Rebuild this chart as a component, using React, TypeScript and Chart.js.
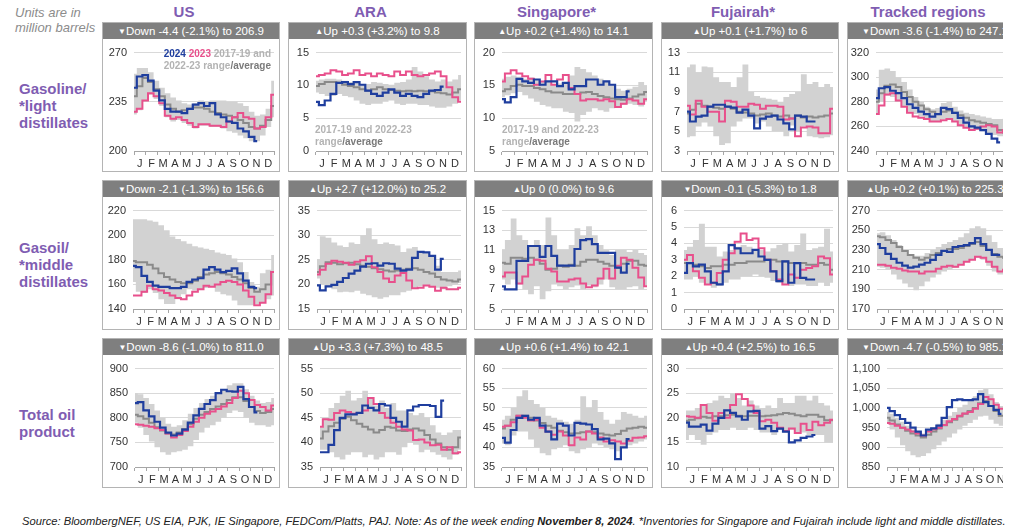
import React, { useEffect, useRef } from 'react';
import { Chart, registerables } from 'chart.js';
Chart.register(...registerables);

const FONT = '"Liberation Sans", Arial, Helvetica, sans-serif';
Chart.defaults.font.family = FONT;

const MONTHS = ['J', 'F', 'M', 'A', 'M', 'J', 'J', 'A', 'S', 'O', 'N', 'D'];

// ---------- Gasoline / light distillates ----------
const G_US_24 = [245, 253, 254, 250, 243, 236, 230, 228, 228, 227, 230, 233, 234, 232, 234, 226, 224, 221, 220, 216, 214, 210, 207];
const G_US_23 = [228, 230, 236, 241, 239, 234, 225, 223, 224, 222, 220, 217, 219, 219, 218, 218, 217, 221, 224, 227, 224, 223, 216, 217, 224, 240];
const G_US_AVG = [239, 246, 252, 249, 244, 239, 233, 230, 228, 229, 230, 231, 231, 230, 228, 227, 226, 225, 224, 222, 220, 217, 216, 218, 222, 232];
const G_US_LO = [226, 229, 235, 240, 237, 232, 224, 221, 222, 220, 218, 216, 218, 218, 217, 217, 216, 214, 213, 211, 209, 207, 207, 211, 217, 224];
const G_US_HI = [255, 259, 259, 256, 250, 245, 241, 238, 236, 234, 233, 234, 236, 235, 236, 236, 236, 235, 235, 234, 232, 228, 225, 226, 230, 250];

const G_ARA_24 = [7.5, 7.0, 7.7, 8.7, 10.4, 10.5, 10.2, 10.5, 10.1, 9.2, 8.7, 8.4, 8.9, 9.4, 8.9, 8.4, 8.7, 8.4, 8.2, 8.7, 9.2, 9.3, 9.8];
const G_ARA_23 = [11.4, 11.6, 11.8, 12.3, 12.1, 11.6, 11.8, 12.3, 11.6, 11.8, 11.4, 11.8, 11.6, 11.4, 12.1, 11.6, 12.1, 11.6, 11.4, 11.6, 11.8, 12.1, 11.4, 9.7, 8.2, 7.5];
const G_ARA_AVG = [9.9, 10.2, 10.5, 10.5, 10.4, 10.1, 9.9, 9.7, 9.4, 9.2, 9.4, 9.7, 9.4, 9.3, 9.2, 9.1, 9.2, 9.1, 9.2, 9.1, 9.1, 8.9, 8.8, 8.6, 8.9, 9.4];
const G_ARA_LO = [8.9, 8.7, 8.4, 8.4, 8.7, 8.4, 8.2, 7.7, 7.2, 7.0, 7.2, 7.2, 7.5, 7.7, 7.2, 7.0, 7.2, 7.2, 7.0, 7.0, 6.8, 6.6, 6.6, 6.8, 7.2, 7.7];
const G_ARA_HI = [10.7, 10.9, 11.0, 11.0, 10.9, 10.7, 10.5, 10.4, 10.1, 10.2, 10.5, 10.4, 10.2, 10.1, 10.4, 10.5, 10.9, 12.8, 12.1, 11.4, 10.9, 10.6, 10.9, 10.6, 10.9, 11.6];

const G_SG_24 = [12.9, 12.4, 13.2, 16.0, 15.6, 15.4, 15.9, 15.1, 15.6, 15.6, 14.9, 15.4, 14.4, 14.9, 14.9, 15.9, 15.9, 15.1, 15.6, 15.1, 13.2, 13.2, 14.1];
const G_SG_23 = [15.6, 16.8, 17.3, 16.8, 16.4, 16.0, 15.1, 15.6, 16.6, 15.1, 15.9, 16.6, 14.6, 13.7, 12.7, 12.9, 12.9, 12.7, 12.9, 12.6, 11.7, 12.2, 12.9, 12.7, 12.2, 12.9];
const G_SG_AVG = [14.1, 14.4, 14.9, 15.1, 14.9, 14.9, 14.6, 14.4, 14.1, 13.9, 13.9, 13.7, 13.7, 13.7, 13.9, 14.0, 13.7, 13.4, 13.2, 13.0, 12.9, 12.8, 13.0, 13.3, 13.6, 14.0];
const G_SG_LO = [13.2, 13.5, 13.8, 14.0, 13.5, 13.0, 12.5, 12.0, 11.8, 11.5, 11.5, 11.0, 10.8, 9.5, 10.5, 11.0, 11.5, 11.2, 11.0, 11.5, 11.8, 12.0, 12.2, 12.0, 11.8, 12.5];
const G_SG_HI = [16.0, 16.3, 16.5, 16.3, 16.0, 16.2, 15.8, 15.5, 15.5, 15.0, 15.3, 15.5, 16.5, 17.8, 17.5, 17.0, 16.5, 16.0, 15.5, 15.0, 14.5, 14.2, 14.5, 14.8, 15.5, 15.0];

const G_FJ_24 = [7.0, 6.0, 6.5, 6.6, 7.5, 7.7, 7.7, 7.5, 7.4, 6.9, 7.2, 6.6, 5.3, 6.3, 6.5, 6.6, 6.2, 5.8, 5.2, 6.6, 6.5, 6.0, 6.0];
const G_FJ_23 = [7.6, 6.7, 8.1, 7.5, 7.0, 7.0, 6.0, 8.1, 8.0, 7.5, 7.5, 7.8, 7.7, 7.3, 7.6, 7.6, 7.5, 6.2, 6.3, 4.5, 5.4, 5.5, 5.4, 4.8, 4.8, 7.3];
const G_FJ_AVG = [6.8, 7.2, 7.8, 7.6, 7.5, 7.4, 7.3, 7.5, 7.3, 7.0, 6.9, 6.8, 6.6, 6.7, 6.8, 6.6, 6.5, 6.6, 6.3, 6.6, 6.4, 6.5, 6.4, 6.5, 6.6, 6.8];
const G_FJ_LO = [4.4, 4.5, 5.5, 5.9, 5.5, 4.5, 3.6, 3.8, 5.5, 6.0, 6.3, 6.3, 5.8, 6.0, 5.5, 5.0, 5.0, 4.5, 5.6, 5.0, 5.5, 4.5, 4.4, 4.3, 4.4, 4.6];
const G_FJ_HI = [11.5, 11.8, 11.0, 11.6, 11.5, 10.5, 10.0, 10.0, 9.5, 10.5, 11.8, 9.0, 8.6, 8.4, 8.3, 8.2, 8.0, 8.5, 8.8, 9.0, 10.8, 9.8, 10.0, 9.5, 9.8, 9.5];

const G_TR_24 = [283, 291, 292, 289, 287, 283, 278, 275, 272, 270, 268, 270, 275, 274, 271, 267, 263, 260, 259, 257, 254, 250, 247];
const G_TR_23 = [270, 277, 286, 287, 281, 276, 271, 268, 267, 266, 264, 264, 265, 266, 264, 261, 259, 257, 258, 260, 261, 260, 255, 257, 257, 258];
const G_TR_AVG = [280, 287, 293, 294, 292, 288, 284, 280, 277, 274, 272, 270, 272, 273, 271, 269, 267, 265, 264, 263, 262, 261, 257, 255, 256, 258];
const G_TR_LO = [270, 280, 285, 284, 280, 276, 272, 270, 268, 266, 264, 264, 266, 266, 264, 261, 259, 258, 257, 256, 254, 253, 252, 252, 254, 255];
const G_TR_HI = [290, 306, 307, 305, 300, 296, 290, 284, 280, 276, 274, 275, 279, 280, 276, 273, 271, 270, 269, 268, 267, 266, 266, 267, 266, 265];

// ---------- Gasoil / middle distillates ----------
const M_US_24 = [175, 174, 167, 162, 159, 158, 158, 157, 157, 158, 162, 164, 165, 172, 174, 172, 170, 171, 173, 169, 163, 158, 157];
const M_US_23 = [151, 151, 154, 159, 156, 155, 153, 151, 149, 148, 151, 154, 156, 159, 158, 160, 162, 163, 162, 160, 155, 150, 143, 145, 152, 170];
const M_US_AVG = [179, 178, 178, 176, 173, 169, 166, 164, 162, 161, 161, 163, 166, 168, 169, 170, 169, 168, 166, 164, 161, 157, 154, 156, 160, 170];
const M_US_LO = [162, 154, 153, 156, 153, 148, 144, 144, 148, 152, 156, 155, 156, 157, 158, 154, 152, 151, 147, 143, 143, 143, 144, 145, 148, 151];
const M_US_HI = [213, 213, 213, 212, 211, 208, 204, 199, 197, 195, 193, 191, 190, 189, 188, 186, 185, 184, 181, 178, 170, 162, 158, 169, 172, 184];

const M_ARA_24 = [19.8, 18.8, 19.6, 19.9, 20.5, 21.3, 22.2, 22.8, 23.6, 24.2, 24.3, 23.8, 24.3, 24.2, 23.2, 22.8, 23.0, 25.4, 26.6, 26.5, 25.8, 23.0, 25.2];
const M_ARA_23 = [22.0, 23.0, 24.2, 24.8, 24.6, 24.4, 24.0, 24.6, 24.9, 25.7, 23.5, 22.5, 21.2, 20.5, 21.8, 22.3, 20.8, 19.2, 19.3, 19.8, 19.5, 18.7, 19.3, 19.0, 19.0, 19.3];
const M_ARA_AVG = [22.5, 23.7, 24.5, 24.4, 24.1, 24.3, 24.4, 24.1, 23.8, 23.6, 23.3, 23.1, 22.8, 22.6, 22.8, 23.0, 23.2, 23.3, 23.0, 22.5, 22.2, 21.5, 21.0, 20.8, 20.6, 21.0];
const M_ARA_LO = [21.2, 20.0, 19.6, 19.0, 18.4, 18.5, 18.4, 18.7, 18.1, 17.8, 17.4, 17.1, 17.4, 17.8, 17.8, 18.4, 18.7, 19.3, 19.6, 20.0, 19.6, 19.3, 19.0, 19.6, 20.0, 20.3];
const M_ARA_HI = [25.1, 29.8, 29.5, 28.5, 27.9, 27.6, 28.5, 28.2, 30.0, 31.4, 29.2, 28.2, 28.5, 28.2, 27.9, 26.6, 27.3, 27.6, 26.6, 26.3, 25.7, 23.8, 22.5, 22.5, 22.5, 22.8];

const M_SG_24 = [7.3, 7.0, 7.0, 9.9, 9.9, 11.4, 11.4, 10.3, 11.4, 10.4, 9.4, 9.4, 9.4, 11.1, 12.0, 12.1, 11.6, 10.7, 10.7, 10.7, 9.2, 8.7, 9.6];
const M_SG_23 = [8.3, 8.7, 8.7, 7.6, 8.3, 9.5, 10.0, 9.9, 9.1, 8.8, 7.8, 7.8, 8.0, 8.1, 7.6, 7.2, 7.4, 8.1, 9.1, 8.1, 9.4, 10.2, 10.0, 9.2, 8.2, 7.3];
const M_SG_AVG = [9.7, 9.6, 10.2, 10.2, 10.1, 10.2, 10.0, 9.6, 9.0, 9.1, 9.4, 9.3, 9.5, 9.4, 9.8, 10.0, 10.0, 9.8, 9.6, 9.4, 9.2, 9.6, 9.9, 9.9, 9.5, 9.4];
const M_SG_LO = [8.0, 7.5, 8.0, 7.5, 7.0, 6.5, 7.3, 6.0, 6.8, 7.5, 7.3, 7.0, 7.2, 7.4, 7.0, 7.4, 7.2, 7.5, 8.0, 7.2, 7.0, 7.0, 7.2, 7.3, 7.0, 7.4];
const M_SG_HI = [11.0, 12.0, 14.2, 12.5, 12.0, 11.5, 12.0, 11.5, 14.3, 12.5, 11.0, 11.0, 11.5, 13.2, 12.5, 13.4, 12.5, 11.5, 11.0, 10.5, 11.0, 11.0, 10.8, 11.0, 10.7, 10.5];

const M_FJ_24 = [2.2, 2.8, 2.6, 2.7, 2.3, 1.6, 1.5, 2.3, 3.9, 3.7, 3.4, 3.4, 3.6, 3.2, 3.0, 2.3, 1.7, 2.9, 1.6, 2.8, 1.9, 1.8, 1.8];
const M_FJ_23 = [3.0, 3.3, 2.3, 1.9, 1.5, 1.6, 2.2, 3.0, 3.4, 4.1, 4.6, 4.2, 4.3, 3.7, 3.0, 2.3, 1.8, 1.5, 2.1, 1.9, 2.4, 2.5, 2.6, 3.2, 3.1, 2.1];
const M_FJ_AVG = [2.8, 2.8, 2.7, 2.6, 2.5, 2.6, 2.6, 2.7, 2.7, 2.8, 2.8, 2.9, 2.9, 2.9, 3.0, 3.0, 2.9, 2.9, 2.8, 2.8, 2.8, 2.7, 2.7, 2.8, 2.7, 2.4];
const M_FJ_LO = [1.8, 1.8, 2.0, 1.6, 1.5, 1.3, 1.4, 1.6, 1.8, 1.8, 2.0, 2.0, 2.1, 2.0, 1.9, 1.7, 1.6, 1.5, 1.4, 1.5, 1.5, 1.4, 1.4, 1.6, 1.4, 1.6];
const M_FJ_HI = [3.6, 3.8, 4.2, 5.2, 3.8, 3.8, 3.2, 3.5, 3.6, 3.8, 3.9, 3.8, 3.6, 3.6, 3.5, 3.7, 3.9, 4.0, 3.5, 3.9, 4.6, 3.6, 3.7, 3.8, 4.9, 3.5];

const M_TR_24 = [236, 232, 226, 221, 217, 214, 212, 213, 215, 217, 220, 225, 229, 228, 233, 234, 235, 237, 242, 236, 230, 225, 225];
const M_TR_23 = [215, 215, 214, 212, 211, 209, 208, 208, 206, 208, 208, 211, 213, 214, 213, 215, 218, 220, 223, 222, 218, 213, 208, 210, 212, 214];
const M_TR_AVG = [244, 243, 240, 237, 233, 229, 225, 222, 220, 222, 225, 227, 229, 231, 231, 232, 234, 236, 238, 234, 230, 226, 223, 222, 223, 225];
const M_TR_LO = [213, 212, 210, 205, 200, 196, 192, 189, 193, 198, 202, 205, 208, 210, 212, 215, 218, 220, 222, 220, 214, 208, 205, 206, 208, 210];
const M_TR_HI = [247, 248, 245, 240, 235, 230, 226, 224, 224, 227, 230, 233, 236, 238, 240, 243, 247, 252, 254, 252, 245, 238, 232, 230, 228, 230];

// ---------- Total oil product ----------
const T_US_24 = [830, 832, 815, 803, 792, 780, 770, 764, 768, 776, 790, 805, 818, 828, 836, 850, 857, 854, 853, 863, 838, 822, 811];
const T_US_23 = [787, 786, 784, 782, 779, 775, 768, 760, 765, 773, 782, 792, 800, 808, 813, 818, 823, 830, 840, 855, 850, 836, 826, 822, 815, 825];
const T_US_AVG = [806, 803, 798, 790, 781, 774, 768, 766, 770, 777, 787, 798, 806, 812, 818, 823, 828, 836, 842, 842, 834, 822, 814, 810, 812, 818];
const T_US_LO = [790, 780, 765, 752, 740, 730, 725, 730, 732, 735, 742, 755, 770, 780, 785, 792, 800, 810, 815, 812, 800, 790, 785, 785, 782, 785];
const T_US_HI = [850, 848, 840, 828, 815, 800, 788, 782, 785, 795, 808, 820, 830, 838, 845, 852, 858, 866, 870, 870, 858, 845, 835, 830, 832, 840];

const T_ARA_24 = [38.0, 38.0, 39.5, 42.5, 45.0, 45.7, 45.7, 46.0, 47.5, 47.0, 46.5, 47.8, 47.5, 45.0, 44.2, 43.2, 46.5, 47.3, 47.6, 47.6, 47.4, 45.2, 48.5];
const T_ARA_23 = [43.2, 44.7, 44.6, 46.0, 46.5, 46.2, 45.8, 46.0, 46.5, 49.0, 47.8, 46.0, 45.0, 44.0, 43.2, 42.6, 42.4, 40.5, 40.6, 40.0, 39.4, 39.5, 38.5, 39.0, 37.8, 38.0];
const T_ARA_AVG = [40.8, 42.2, 43.3, 44.0, 44.8, 45.2, 44.5, 43.8, 43.2, 42.6, 42.0, 42.5, 43.2, 43.0, 42.4, 42.3, 42.6, 42.8, 42.4, 41.5, 40.6, 39.8, 39.0, 38.5, 39.0, 41.0];
const T_ARA_LO = [38.5, 38.5, 38.0, 37.0, 36.5, 37.5, 38.0, 38.0, 37.0, 37.5, 36.5, 37.0, 38.0, 38.0, 37.5, 39.0, 40.0, 39.5, 38.0, 38.5, 38.0, 37.5, 37.0, 36.5, 37.5, 38.5];
const T_ARA_HI = [43.0, 45.0, 47.0, 48.0, 49.5, 50.5, 48.5, 49.0, 50.5, 49.0, 47.5, 48.5, 47.0, 48.0, 46.5, 46.5, 46.0, 45.5, 46.0, 45.0, 43.5, 42.0, 41.5, 42.0, 42.5, 42.5];

const T_SG_24 = [42.4, 41.2, 44.4, 47.5, 48.0, 47.0, 47.5, 45.5, 44.0, 42.0, 46.0, 45.5, 43.0, 46.2, 46.0, 45.8, 44.6, 42.0, 42.2, 41.0, 37.0, 40.0, 42.1];
const T_SG_23 = [45.2, 45.5, 46.4, 48.0, 47.5, 46.8, 47.0, 45.0, 44.0, 43.2, 44.0, 43.0, 40.5, 42.5, 42.0, 44.0, 43.5, 42.5, 41.5, 41.8, 41.5, 41.0, 41.7, 42.4, 42.5, 42.8];
const T_SG_AVG = [44.8, 45.5, 47.0, 48.0, 48.0, 47.5, 46.8, 46.2, 45.5, 45.0, 44.2, 43.8, 43.5, 43.6, 43.8, 44.0, 43.8, 43.5, 43.2, 43.0, 43.4, 44.2, 44.8, 45.0, 45.2, 45.0];
const T_SG_LO = [41.0, 40.5, 43.0, 44.0, 44.0, 42.0, 40.0, 38.5, 38.0, 39.5, 40.0, 40.5, 39.0, 38.5, 39.5, 40.0, 41.0, 40.5, 40.0, 39.5, 39.0, 40.0, 40.5, 41.0, 41.5, 42.0];
const T_SG_HI = [47.0, 48.0, 50.0, 53.0, 54.5, 52.0, 51.0, 50.0, 48.0, 47.5, 47.0, 46.5, 46.0, 47.0, 53.0, 50.0, 52.0, 49.0, 47.0, 46.0, 47.0, 49.0, 48.5, 48.0, 47.5, 48.0];

const T_FJ_24 = [19.0, 18.2, 18.2, 18.6, 17.4, 18.8, 20.0, 21.5, 21.0, 20.3, 19.6, 21.3, 21.4, 17.8, 18.3, 17.3, 17.8, 17.2, 15.0, 15.4, 15.9, 16.2, 16.5];
const T_FJ_23 = [20.3, 20.2, 20.0, 22.6, 21.0, 19.4, 21.0, 20.0, 22.6, 24.8, 23.8, 22.5, 21.0, 19.3, 19.6, 19.0, 18.0, 17.3, 17.8, 16.9, 18.8, 17.5, 19.2, 18.5, 19.0, 19.6];
const T_FJ_AVG = [19.4, 19.6, 19.9, 20.2, 20.0, 20.3, 20.3, 20.5, 20.6, 20.4, 20.3, 20.4, 20.4, 20.3, 20.4, 20.5, 20.7, 21.0, 20.8, 20.5, 20.3, 20.6, 20.6, 20.2, 19.5, 19.5];
const T_FJ_LO = [15.5, 16.5, 15.5, 14.5, 16.5, 17.0, 17.5, 17.5, 18.0, 17.5, 17.5, 18.0, 17.5, 17.0, 17.0, 16.5, 17.5, 17.0, 17.5, 17.0, 17.0, 16.5, 16.5, 16.5, 15.0, 15.0];
const T_FJ_HI = [21.5, 21.5, 22.0, 22.5, 23.0, 23.5, 24.5, 24.0, 25.0, 24.0, 22.5, 23.5, 22.5, 22.0, 22.5, 22.0, 24.0, 23.0, 23.0, 24.5, 24.5, 23.5, 24.5, 23.0, 22.5, 21.5];

const T_TR_24 = [1000, 992, 982, 972, 962, 950, 940, 930, 945, 948, 955, 975, 1002, 1020, 1022, 1020, 1020, 1022, 1035, 1015, 1005, 995, 985];
const T_TR_23 = [962, 960, 955, 950, 945, 940, 935, 930, 940, 946, 950, 957, 966, 972, 980, 986, 990, 998, 1010, 1028, 1022, 1008, 998, 990, 985, 985];
const T_TR_AVG = [975, 968, 958, 950, 942, 935, 930, 925, 932, 940, 948, 956, 964, 970, 978, 985, 992, 1000, 1012, 1018, 1005, 992, 980, 975, 972, 975];
const T_TR_LO = [960, 945, 925, 905, 890, 880, 875, 878, 885, 895, 905, 915, 925, 935, 945, 955, 962, 970, 978, 980, 970, 960, 955, 950, 950, 955];
const T_TR_HI = [990, 985, 975, 965, 955, 945, 938, 935, 940, 950, 960, 970, 980, 990, 1000, 1008, 1018, 1030, 1045, 1048, 1035, 1015, 1005, 1000, 995, 995];

const COLUMN_TITLES = ['US', 'ARA', 'Singapore*', 'Fujairah*', 'Tracked regions'];

// ---------- layout ----------
const COL_LEFT = [102, 288, 474, 661, 847];
const COL_WIDTH = [178, 179, 179, 178, 176];
const ROW_TOP = [22, 180, 338];
const BOX_H = 150;
const HEADER_H = 16;

const BLUE = '#1f3e9e';
const PINK = '#e8508c';
const AVG = '#8a8a8a';
const BAND = '#d2d2d2';
const PURPLE = '#7f5db2';

type PanelDef = {
  row: number; col: number; up: boolean; header: string;
  min: number; max: number; step: number; yW: number;
  d24: number[]; d23: number[]; avg: number[]; lo: number[]; hi: number[];
};

const PANELS: PanelDef[] = [
  { row: 0, col: 0, up: false, header: 'Down -4.4 (-2.1%) to 206.9', min: 200, max: 270, step: 35, yW: 31, d24: G_US_24, d23: G_US_23, avg: G_US_AVG, lo: G_US_LO, hi: G_US_HI },
  { row: 0, col: 1, up: true, header: 'Up +0.3 (+3.2%) to 9.8', min: 0, max: 15, step: 5, yW: 27, d24: G_ARA_24, d23: G_ARA_23, avg: G_ARA_AVG, lo: G_ARA_LO, hi: G_ARA_HI },
  { row: 0, col: 2, up: true, header: 'Up +0.2 (+1.4%) to 14.1', min: 5, max: 20, step: 5, yW: 27, d24: G_SG_24, d23: G_SG_23, avg: G_SG_AVG, lo: G_SG_LO, hi: G_SG_HI },
  { row: 0, col: 3, up: true, header: 'Up +0.1 (+1.7%) to 6', min: 3, max: 13, step: 2, yW: 25, d24: G_FJ_24, d23: G_FJ_23, avg: G_FJ_AVG, lo: G_FJ_LO, hi: G_FJ_HI },
  { row: 0, col: 4, up: false, header: 'Down -3.6 (-1.4%) to 247.1', min: 240, max: 320, step: 20, yW: 28, d24: G_TR_24, d23: G_TR_23, avg: G_TR_AVG, lo: G_TR_LO, hi: G_TR_HI },
  { row: 1, col: 0, up: false, header: 'Down -2.1 (-1.3%) to 156.6', min: 140, max: 220, step: 20, yW: 30, d24: M_US_24, d23: M_US_23, avg: M_US_AVG, lo: M_US_LO, hi: M_US_HI },
  { row: 1, col: 1, up: true, header: 'Up +2.7 (+12.0%) to 25.2', min: 15, max: 35, step: 5, yW: 28, d24: M_ARA_24, d23: M_ARA_23, avg: M_ARA_AVG, lo: M_ARA_LO, hi: M_ARA_HI },
  { row: 1, col: 2, up: true, header: 'Up 0 (0.0%) to 9.6', min: 5, max: 15, step: 2, yW: 27, d24: M_SG_24, d23: M_SG_23, avg: M_SG_AVG, lo: M_SG_LO, hi: M_SG_HI },
  { row: 1, col: 3, up: false, header: 'Down -0.1 (-5.3%) to 1.8', min: 0, max: 6, step: 1, yW: 22, d24: M_FJ_24, d23: M_FJ_23, avg: M_FJ_AVG, lo: M_FJ_LO, hi: M_FJ_HI },
  { row: 1, col: 4, up: true, header: 'Up +0.2 (+0.1%) to 225.3', min: 170, max: 270, step: 20, yW: 29, d24: M_TR_24, d23: M_TR_23, avg: M_TR_AVG, lo: M_TR_LO, hi: M_TR_HI },
  { row: 2, col: 0, up: false, header: 'Down -8.6 (-1.0%) to 811.0', min: 700, max: 900, step: 50, yW: 32, d24: T_US_24, d23: T_US_23, avg: T_US_AVG, lo: T_US_LO, hi: T_US_HI },
  { row: 2, col: 1, up: true, header: 'Up +3.3 (+7.3%) to 48.5', min: 35, max: 55, step: 5, yW: 31, d24: T_ARA_24, d23: T_ARA_23, avg: T_ARA_AVG, lo: T_ARA_LO, hi: T_ARA_HI },
  { row: 2, col: 2, up: true, header: 'Up +0.6 (+1.4%) to 42.1', min: 35, max: 60, step: 5, yW: 27, d24: T_SG_24, d23: T_SG_23, avg: T_SG_AVG, lo: T_SG_LO, hi: T_SG_HI },
  { row: 2, col: 3, up: true, header: 'Up +0.4 (+2.5%) to 16.5', min: 10, max: 30, step: 5, yW: 24, d24: T_FJ_24, d23: T_FJ_23, avg: T_FJ_AVG, lo: T_FJ_LO, hi: T_FJ_HI },
  { row: 2, col: 4, up: false, header: 'Down -4.7 (-0.5%) to 985.1', min: 850, max: 1100, step: 50, yW: 39, d24: T_TR_24, d23: T_TR_23, avg: T_TR_AVG, lo: T_TR_LO, hi: T_TR_HI },
];

function pts(a: number[]) {
  return a.map((v, i) => ({ x: 2 * i + 1, y: v }));
}

function Panel({ p }: { p: PanelDef }) {
  const ref = useRef<HTMLCanvasElement>(null);
  const w = COL_WIDTH[p.col];
  const cw = w - 2;
  const ch = BOX_H - 2 - HEADER_H;
  useEffect(() => {
    const line = (data: number[], color: string, width: number) => ({
      data: pts(data), xAxisID: 'xw', yAxisID: 'y', borderColor: color, borderWidth: width,
      pointRadius: 0, stepped: 'middle' as const, fill: false, tension: 0,
    });
    const chart = new Chart(ref.current!, {
      type: 'line',
      data: {
        labels: MONTHS,
        datasets: [
          line(p.d24, BLUE, 2.2),
          line(p.d23, PINK, 2),
          line(p.avg, AVG, 2),
          { ...line(p.lo, 'rgba(0,0,0,0)', 0) },
          { ...line(p.hi, 'rgba(0,0,0,0)', 0), fill: { target: 3 }, backgroundColor: BAND },
        ] as any,
      },
      options: {
        responsive: false,
        animation: false,
        events: [],
        layout: { padding: { top: 8, right: 5, bottom: 0, left: 0 } },
        plugins: { legend: { display: false }, tooltip: { enabled: false } },
        scales: {
          x: {
            type: 'category', position: 'bottom', offset: true,
            grid: { offset: true, drawOnChartArea: false, drawTicks: true, tickLength: 4, color: '#a6a6a6' },
            border: { display: true, color: '#a6a6a6' },
            ticks: { color: '#333333', font: { size: 11 }, padding: 2, maxRotation: 0, autoSkip: false },
            afterFit: (s: any) => { s.height = 20; },
          },
          xw: { type: 'linear', display: false, min: 1, max: 51 },
          y: {
            type: 'linear', min: p.min, max: p.max,
            ticks: { stepSize: p.step, color: '#333333', font: { size: 11 }, padding: 7 },
            grid: { color: '#d9d9d9', drawTicks: false },
            border: { display: false },
            afterFit: (s: any) => { s.width = p.yW; },
          },
        },
      } as any,
    });
    return () => chart.destroy();
  }, []);
  return (
    <div style={{
      position: 'absolute', left: COL_LEFT[p.col], top: ROW_TOP[p.row], width: w, height: BOX_H,
      border: '1px solid #b4b4b4', boxSizing: 'border-box', background: '#fff',
    }}>
      <div style={{
        height: HEADER_H, background: '#7f7f7f', color: '#ffffff', fontFamily: FONT, fontSize: 11.5,
        lineHeight: HEADER_H + 'px', textAlign: 'center', whiteSpace: 'nowrap', overflow: 'hidden',
      }}>
        <span style={{ fontSize: 8, position: 'relative', top: -1 }}>{p.up ? '▲' : '▼'}</span>{p.header}
      </div>
      <canvas ref={ref} width={cw} height={ch} style={{ display: 'block', width: cw, height: ch }} />
    </div>
  );
}

const legendLight = '#b3b3b3';
const legendDark = '#7a7a7a';

export default function App() {
  return (
    <div style={{ position: 'absolute', left: 0, top: 0, width: 1024, height: 529, background: '#fff', overflow: 'hidden', fontFamily: FONT }}>
      <div style={{ position: 'absolute', left: 0, top: 0, width: 1003, height: 529, overflow: 'hidden' }}>
        <div style={{ position: 'absolute', left: 15, top: 5, fontSize: 13, lineHeight: '15px', fontStyle: 'italic', color: '#8c8c8c' }}>
          Units are in<br />million barrels
        </div>
        {COLUMN_TITLES.map((t, i) => (
          <div key={t} style={{
            position: 'absolute', left: COL_LEFT[i] + COL_WIDTH[i] / 2 - 7 - 100, width: 200, top: 3,
            textAlign: 'center', fontSize: 15, lineHeight: '17px', fontWeight: 'bold', color: PURPLE, whiteSpace: 'nowrap',
          }}>{t}</div>
        ))}
        {[
          { top: 81, text: ['Gasoline/', '*light', 'distillates'] },
          { top: 240, text: ['Gasoil/', '*middle', 'distillates'] },
          { top: 407, text: ['Total oil', 'product'] },
        ].map((r, i) => (
          <div key={i} style={{ position: 'absolute', left: 19, top: r.top, fontSize: 15, lineHeight: '16.8px', fontWeight: 'bold', color: PURPLE }}>
            {r.text.map((t, j) => <div key={j}>{t}</div>)}
          </div>
        ))}
        {PANELS.map((p, i) => <Panel key={i} p={p} />)}
        <div style={{ position: 'absolute', left: 140, top: 48, width: 131, textAlign: 'right', fontSize: 10, lineHeight: '12px', fontWeight: 'bold', whiteSpace: 'nowrap' }}>
          <span style={{ color: BLUE }}>2024</span> <span style={{ color: PINK }}>2023</span> <span style={{ color: legendLight }}>2017-19 and</span><br />
          <span style={{ color: legendLight }}>2022-23 range</span><span style={{ color: legendDark }}>/average</span>
        </div>
        {[315, 502].map((l) => (
          <div key={l} style={{ position: 'absolute', left: l, top: 124, fontSize: 10, lineHeight: '12px', fontWeight: 'bold', whiteSpace: 'nowrap' }}>
            <span style={{ color: legendLight }}>2017-19 and 2022-23</span><br />
            <span style={{ color: legendLight }}>range</span><span style={{ color: legendDark }}>/average</span>
          </div>
        ))}
      </div>
      <div style={{ position: 'absolute', left: 22, top: 515, fontSize: 11.2, lineHeight: '13px', fontStyle: 'italic', color: '#222', whiteSpace: 'nowrap' }}>
        Source: BloombergNEF, US EIA, PJK, IE Singapore, FEDCom/Platts, PAJ. Note: As of the week ending <b>November 8, 2024</b>. *Inventories for Singapore and Fujairah include light and middle distillates.
      </div>
    </div>
  );
}
